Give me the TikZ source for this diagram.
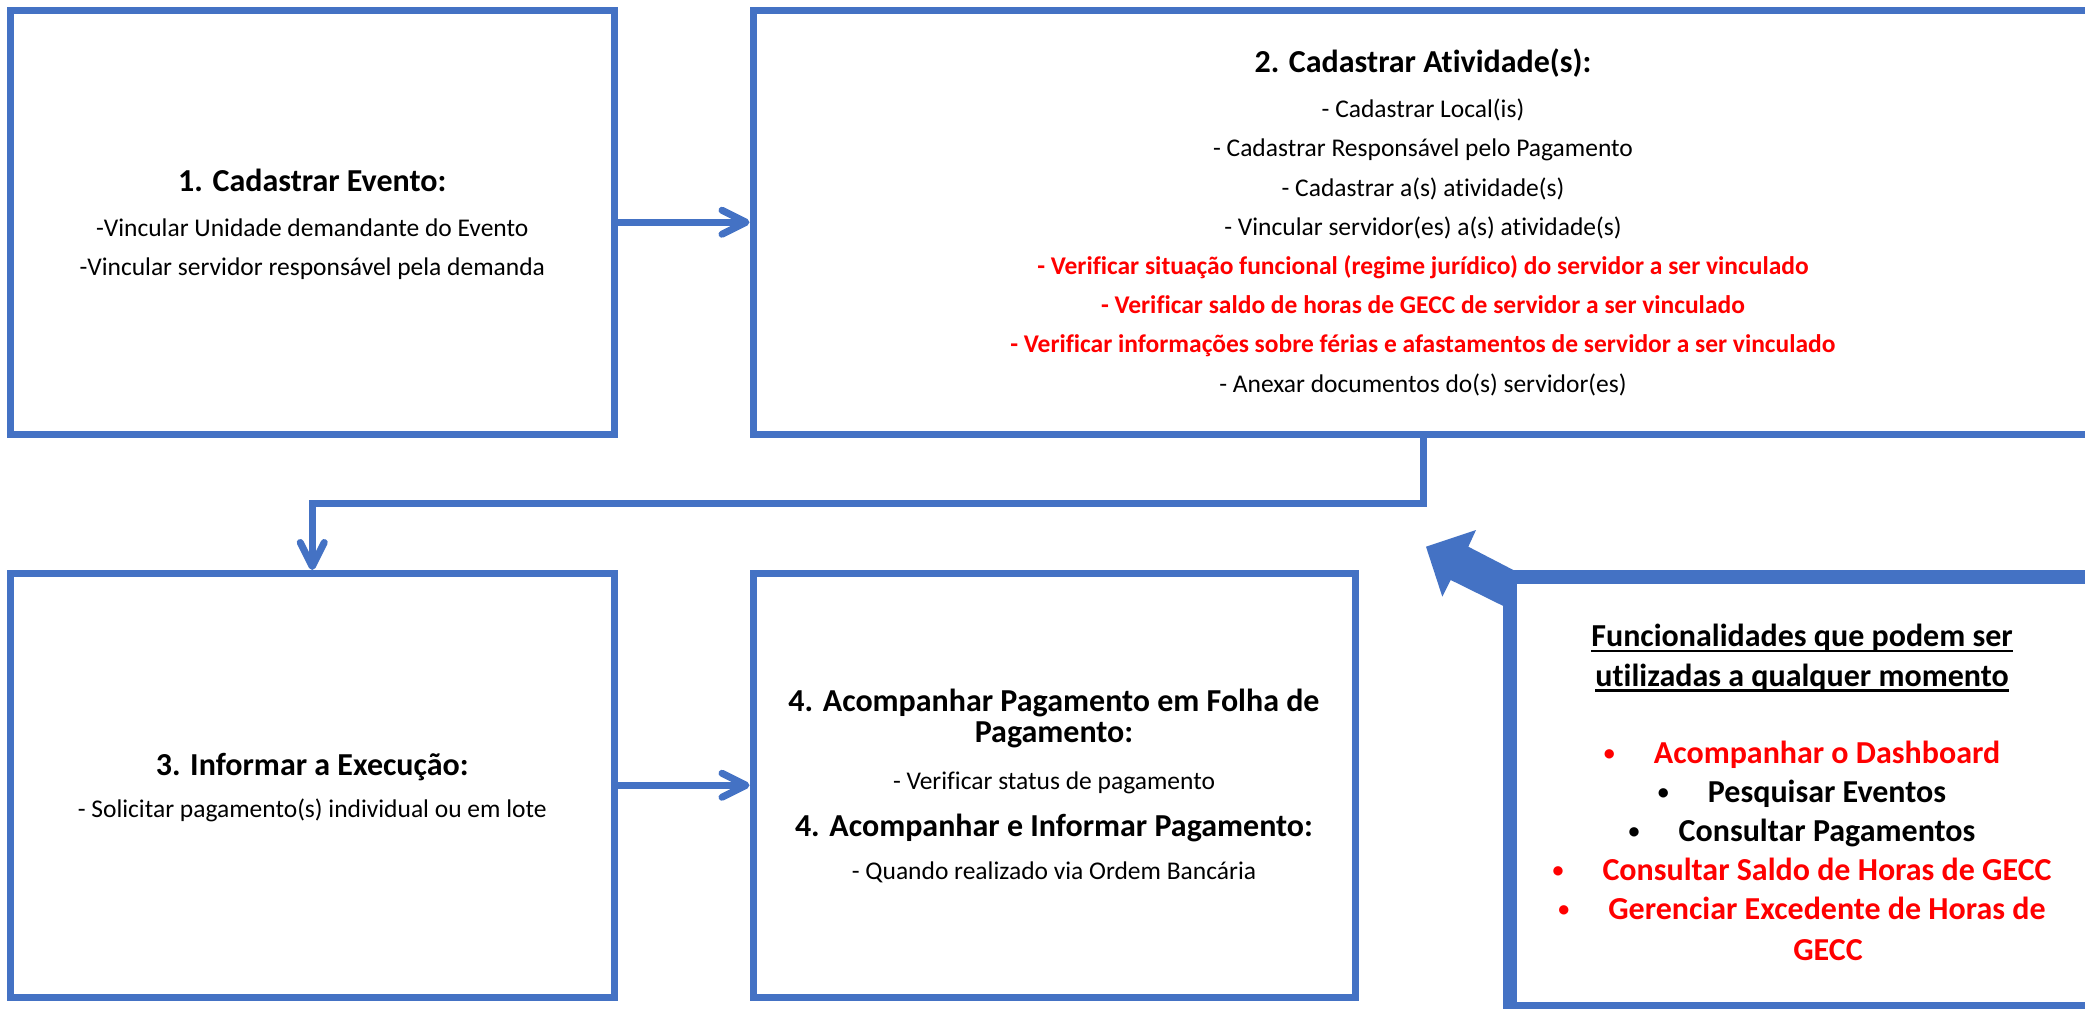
\documentclass[tikz,border=0pt]{standalone}
\usepackage{fontspec}
\setmainfont{Carlito}[Ligatures=NoCommon]
\usetikzlibrary{arrows.meta}
\definecolor{boxblue}{HTML}{4472C4}
\definecolor{vermelho}{HTML}{FF0000}
\newcommand\myuline[1]{{\setbox0=\hbox{#1}\rlap{\rule[-5.6pt]{\wd0}{2.3pt}}\box0}}
\newcommand\mybul{\makebox[51pt][l]{\hspace{1pt}\raisebox{3pt}{\fontsize{22}{22}\selectfont •}}}
\begin{document}
\begin{tikzpicture}[x=1pt,y=-1pt,
  stepbox/.style={draw=boxblue, line width=7pt, inner sep=0pt, rectangle},
  conn/.style={draw=boxblue, line width=7pt, -{Straight Barb[length=24pt,width=24pt,round]}},
  body/.style={anchor=base, inner sep=0pt, font=\fontsize{25.5}{30}\selectfont},
  ttl/.style={anchor=base, inner sep=0pt, font=\bfseries\fontsize{32}{38}\selectfont},
  redb/.style={anchor=base, inner sep=0pt, text=vermelho, font=\bfseries\fontsize{25.5}{30}\selectfont},
  bul/.style={anchor=base, inner sep=0pt, font=\bfseries\fontsize{32}{38}\selectfont},
]
\useasboundingbox (0,0) rectangle (2085,1009);
\clip (0,0) rectangle (2085,1009);
\fill[white] (0,0) rectangle (2085,1009);

% boxes
\node[stepbox, minimum width=603.5pt, minimum height=424.5pt] (b1) at (312.25,222.25) {};
\node[stepbox, minimum width=1340pt, minimum height=424.5pt] (b2) at (1423,222.25) {};
\node[stepbox, minimum width=603.5pt, minimum height=423.5pt] (b3) at (312.25,785.25) {};
\node[stepbox, minimum width=602pt, minimum height=423.5pt] (b4) at (1054,785.25) {};

% big arrow
\fill[boxblue] (1426,546.7) -- (1476,530) -- (1468.3,546.7) -- (1513.3,570) -- (1516.7,583) -- (1503.3,606) -- (1450.7,580) -- (1442.3,596.7) -- cycle;
\node[stepbox, line width=13.3pt, minimum width=583pt, minimum height=431.5pt] (b5) at (1801.5,792.75) {};

% connectors
\coordinate (mid) at (0,503.5);
\draw[conn] (b1.east) -- (b1.east -| b2.west);
\draw[conn] (b2.south) -- (b2.south |- mid) -| (b3.north);
\draw[conn] (b3.east) -- (b4.west);

% box 1 text
\node[ttl] (t1a) at (312.25,191.7) {1. Cadastrar Evento:};
\node[body] (t1b) at (312.25,236.7) {-Vincular Unidade demandante do Evento};
\node[body] (t1c) at (312.25,275) {-Vincular servidor responsável pela demanda};

% box 2 text
\node[ttl] (t2a) at (1423,72) {2. Cadastrar Atividade(s):};
\node[body] (t2b) at (1423,117) {- Cadastrar Local(is)};
\node[body] (t2c) at (1423,156.5) {- Cadastrar Responsável pelo Pagamento};
\node[body] (t2d) at (1423,196) {- Cadastrar a(s) atividade(s)};
\node[body] (t2e) at (1423,235) {- Vincular servidor(es) a(s) atividade(s)};
\node[redb] (t2f) at (1423,274) {- Verificar situação funcional (regime jurídico) do servidor a ser vinculado};
\node[redb] (t2g) at (1423,313) {- Verificar saldo de horas de GECC de servidor a ser vinculado};
\node[redb] (t2h) at (1423,352.5) {- Verificar informações sobre férias e afastamentos de servidor a ser vinculado};
\node[body] (t2i) at (1423,392) {- Anexar documentos do(s) servidor(es)};

% box 3 text
\node[ttl] (t3a) at (312.25,775) {3. Informar a Execução:};
\node[body] (t3b) at (312.25,817) {- Solicitar pagamento(s) individual ou em lote};

% box 4 text
\node[ttl] (t4a) at (1054,711.5) {4. Acompanhar Pagamento em Folha de};
\node[ttl] (t4b) at (1054,742.5) {Pagamento:};
\node[body] (t4c) at (1054,789) {- Verificar status de pagamento};
\node[ttl] (t4d) at (1054,836) {4. Acompanhar e Informar Pagamento:};
\node[body] (t4e) at (1054,879) {- Quando realizado via Ordem Bancária};

% box 5 text
\node[ttl] (t5a) at (1802,646.7) {\myuline{Funcionalidades que podem ser}};
\node[ttl] (t5b) at (1802,686) {\myuline{utilizadas a qualquer momento}};
\node[bul, text=vermelho] (f1) at (1801.5,763) {\mybul Acompanhar o Dashboard};
\node[bul] (f2) at (1801.5,802) {\mybul Pesquisar Eventos};
\node[bul] (f3) at (1801.5,841) {\mybul Consultar Pagamentos};
\node[bul, text=vermelho] (f4) at (1801.5,880) {\mybul Consultar Saldo de Horas de GECC};
\node[bul, text=vermelho] (f5) at (1801.5,919) {\mybul Gerenciar Excedente de Horas de};
\node[bul, text=vermelho] (f6) at (1828,960) {GECC};
\end{tikzpicture}
\end{document}
